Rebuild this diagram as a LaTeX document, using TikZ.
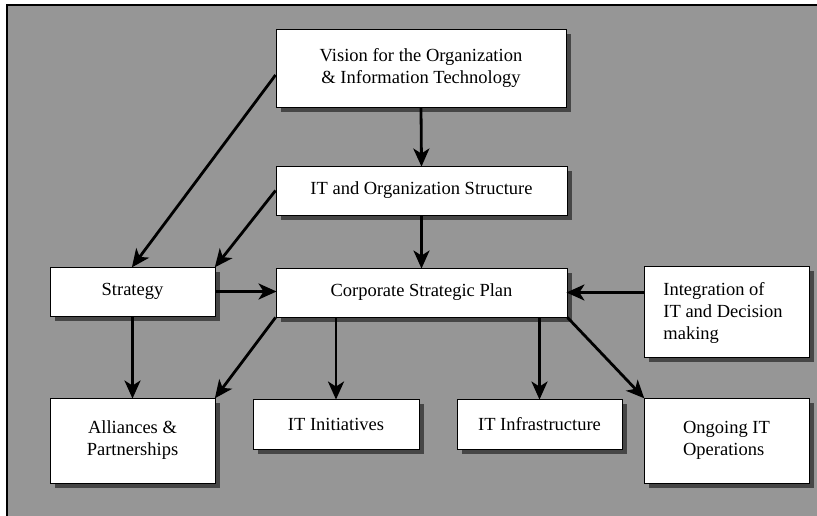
\documentclass[tikz,border=0pt]{standalone}
\usepackage{fontspec}
\setmainfont{Liberation Serif}
\usetikzlibrary{arrows.meta,shadows,calc}
\definecolor{bggray}{RGB}{150,150,150}
\definecolor{shgray}{RGB}{70,70,70}
\tikzset{
  box/.style={draw=black, line width=0.9pt, fill=white, rectangle, inner sep=0pt,
    font=\fontsize{18.5}{22}\selectfont,
    drop shadow={shadow xshift=5pt, shadow yshift=-5pt, fill=shgray, opacity=1}},
  conn/.style={line width=2.8pt, -{Stealth[length=18pt,width=16pt,inset=5pt]}, shorten >=-1pt}
}
\begin{document}
\begin{tikzpicture}[x=1pt,y=-1pt]
\useasboundingbox (0,0) rectangle (817,516);
\fill[white] (0,0) rectangle (817,516);
\fill[bggray] (7,5) rectangle (817,516);
\draw[line width=1.2pt] (7,516) -- (7,5) -- (817,5);

\node[box, minimum width=290pt, minimum height=78pt, align=center] (vision) at (421,68)
  {Vision for the Organization\\\& Information Technology};
\node[box, minimum width=291pt, minimum height=49pt] (itorg) at (421.5,190.5)
  {IT and Organization Structure};
\node[box, minimum width=291pt, minimum height=49pt] (csp) at (421.5,292.5)
  {Corporate Strategic Plan};
\node[box, minimum width=165pt, minimum height=49pt] (strategy) at (132.5,291.5)
  {Strategy};
\node[box, minimum width=165pt, minimum height=91pt] (integ) at (726.5,311.5) {};
\node[font=\fontsize{18.5}{22}\selectfont, align=left, inner sep=0pt] (integtext) at (723,313)
  {Integration of\\IT and Decision\\making};
\node[box, minimum width=165pt, minimum height=85pt, align=center] (alliances) at (132.5,440.5)
  {Alliances \&\\Partnerships};
\node[box, minimum width=166pt, minimum height=50pt] (initiatives) at (336,424)
  {IT Initiatives};
\node[box, minimum width=165pt, minimum height=50pt] (infra) at (539.5,424)
  {IT Infrastructure};
\node[box, minimum width=165pt, minimum height=85pt, align=left] (ongoing) at (726.5,440.5)
  {Ongoing IT\\Operations};

\draw[conn] (vision.south) -- (itorg.north);
\draw[conn] (itorg.south) -- (csp.north);
\draw[conn] ([yshift=-7pt]vision.west) -- (strategy.north);
\draw[conn] (itorg.west) -- (strategy.north east);
\draw[conn] (strategy.east) -- (strategy.east -| csp.west);
\draw[conn] (strategy.south) -- (alliances.north);
\draw[conn] (csp.south west) -- (alliances.north east);
\draw[conn] (csp.south -| initiatives.north) -- (initiatives.north);
\draw[conn] (csp.south -| infra.north) -- (infra.north);
\draw[conn] (csp.south east) -- (ongoing.north west);
\draw[conn] (integ.west |- csp.east) -- (csp.east);
\end{tikzpicture}
\end{document}
